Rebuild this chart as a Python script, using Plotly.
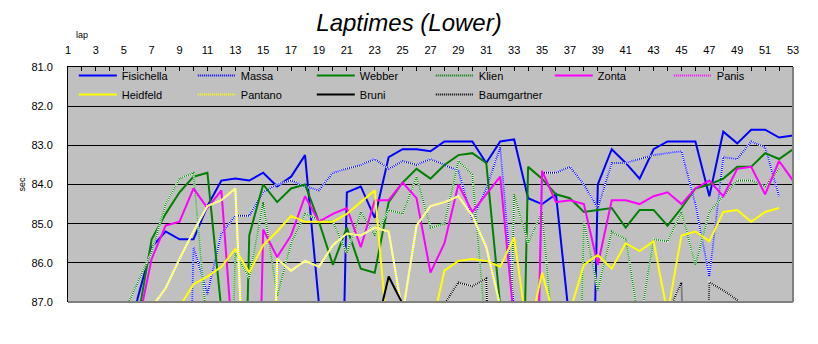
import plotly.graph_objects as go

laps = list(range(1, 54))
tick_laps = list(range(1, 54, 2))

fisichella = [96.0, 89.8, 88.9, 88.7, 88.5, 86.9, 85.6, 85.2, 85.4, 85.4,
              84.55, 83.9, 83.85, 83.9, 83.7, 84.05, 83.8, 83.25, 87.05, 100.5,
              84.2, 84.05, 84.85, 83.3, 83.1, 83.1, 83.15, 82.9, 82.9, 82.9,
              83.45, 82.9, 82.85, 84.35, 84.5, 84.25, 87.6, 100.2, 84.0, 83.1,
              83.45, 83.85, 83.1, 82.9, 82.9, 82.9, 84.3, 82.65, 82.95, 82.6,
              82.6, 82.8, 82.75]
massa = [97.0, 90.2, 89.5, 89.0, 88.8, 88.9, 88.4, 88.7, 101.0, 85.6,
         86.8, 85.25, 84.8, 84.8, 84.2, 84.0, 83.9, 84.05, 84.15, 83.7,
         83.6, 83.5, 83.35, 83.6, 83.4, 83.5, 83.35, 83.5, 83.65, 84.9,
         84.1, 83.05, 87.2, 100.0, 83.7, 83.7, 83.55, 84.0, 84.6, 83.45,
         83.45, 83.35, 83.25, 83.2, 83.15, 84.5, 86.35, 83.3, 83.35, 82.9,
         83.05, 84.3, None]
webber = [97.5, 90.0, 89.1, 88.6, 88.3, 87.45, 85.4, 84.75, 84.2, 83.8,
          83.7, 87.2, 100.0, 85.3, 84.0, 84.45, 84.1, 84.0, 84.95, 86.05,
          85.1, 86.15, 86.25, 84.45, 83.95, 83.6, 83.85, 83.5, 83.25, 83.2,
          83.45, 87.1, 100.0, 83.55, 83.85, 84.25, 84.35, 84.7, 84.65, 84.6,
          85.1, 84.65, 84.65, 85.05, 84.6, 84.1, 84.0, 83.85, 83.55, 83.55,
          83.2, 83.35, 83.1]
klien = [96.5, 89.5, 88.7, 88.0, 87.28, 86.5, 85.72, 84.5, 83.85, 83.7,
         87.8, 99.0, 85.75, 86.4, 84.45, 86.85, 85.5, 84.75, 84.9, 84.95,
         85.75, 84.7, 85.3, 84.65, 84.75, 83.8, 85.1, 85.0, 83.4, 83.75,
         87.86, 99.0, 84.25, 85.5, 84.7, 88.7, 99.5, 84.95, 86.7, 85.2,
         85.4, 87.6, 85.4, 85.45, 84.7, 86.05, 84.7, 84.3, 83.9, 83.9,
         84.05, 83.6, None]
zonta = [97.8, 90.8, 89.6, 89.0, 88.4, 87.62, 85.9, 85.05, 84.95, 84.1,
         84.6, 84.15, 88.9, 100.3, 85.15, 85.85, 85.3, 84.3, 84.95, 84.75,
         84.6, 85.6, 84.4, 84.4, 83.95, 84.35, 86.25, 85.5, 84.0, 84.7,
         84.25, 83.8, 87.5, 100.0, 83.65, 84.45, 84.4, 84.5, 86.05, 84.4,
         84.4, 84.5, 84.3, 84.2, 84.5, 84.1, 83.9, 84.3, 83.6, 83.55,
         84.25, 83.4, 83.9]
panis = [99.0, 89.5] + [None] * 51
heidfeld = [98.0, 91.0, 89.8, 89.2, 88.9, 88.5, 88.2, 87.9, 87.12, 86.55,
            86.35, 86.1, 85.65, 86.25, 85.55, 85.2, 84.8, 84.95, 84.95, 84.95,
            84.75, 84.45, 84.15, 88.2, 100.0, 88.5, 87.8, 86.2, 85.95, 85.9,
            85.95, 86.1, 85.35, 87.9, 86.25, 87.56, 87.25, 86.05, 85.8, 86.15,
            85.5, 85.7, 85.45, 87.3, 85.3, 85.2, 85.45, 84.7, 84.65, 84.95,
            84.7, 84.6, None]
pantano = [98.2, 91.2, 90.0, 89.3, 88.6, 88.0, 87.14, 86.65, 85.9, 85.2,
           84.55, 84.4, 84.1, 92.0, 100.0, 85.9, 86.2, 85.95, 86.1, 85.55,
           85.25, 85.3, 85.1, 85.2, 87.3, 85.05, 84.55, 84.45, 84.3, 84.8,
           85.6, 87.1] + [None] * 21
bruni = [99.0, 92.0, 90.5, 89.8, 89.5, 89.2, 89.0, 88.9, 88.6, 88.7,
         88.5, 88.4, 88.8, 88.3, 88.2, 88.4, 88.0, 88.3, 88.1, 88.2,
         88.0, 87.9, 87.86, 86.35, 87.05, 88.6, 88.4, 88.9, 88.3, 88.5,
         101.0, 88.7, 88.4, 88.2, 88.5, 88.3, 88.6, 88.2, 88.4, 88.1,
         88.3, 88.0, 88.2, None, None, None, None, None, None, None,
         None, None, None]
baumgartner = [99.5, 92.5, 91.0, 90.0, 89.6, 89.3, 89.1, 88.8, 88.9, 88.6,
               88.5, 88.7, 88.4, 88.6, 88.3, 88.2, 88.5, 88.1, 88.3, 88.2,
               88.0, 88.4, 88.1, 88.2, 87.9, 88.3, 88.0, 87.05, 86.5, 86.6,
               86.4, 99.0, 88.6, 88.2, 88.1, 88.4, 87.9, 88.2, 88.0, 88.3,
               87.8, 88.1, 87.9, 87.28, 86.5, 99.0, 86.5, 86.7, 86.95, 87.8,
               None, None, None]

series = [
    ("Fisichella", fisichella, "#0000FF", False),
    ("Massa", massa, "#0000FF", True),
    ("Webber", webber, "#008000", False),
    ("Klien", klien, "#008000", True),
    ("Zonta", zonta, "#FF00FF", False),
    ("Panis", panis, "#FF00FF", True),
    ("Heidfeld", heidfeld, "#FFFF00", False),
    ("Pantano", pantano, "#FFFF00", True),
    ("Bruni", bruni, "#000000", False),
    ("Baumgartner", baumgartner, "#000000", True),
]

fig = go.Figure()
for name, vals, color, dotted in series:
    if dotted:
        fig.add_trace(go.Scatter(x=laps, y=vals, mode="lines", showlegend=False,
                                 hoverinfo="skip",
                                 line=dict(color="#FFFFFF", width=2)))
        fig.add_trace(go.Scatter(x=laps, y=vals, mode="lines", name=name,
                                 line=dict(color=color, width=2, dash="1px,1px")))
    else:
        fig.add_trace(go.Scatter(x=laps, y=vals, mode="lines", name=name,
                                 line=dict(color=color, width=2)))

axis_font = dict(family="Liberation Sans, Arial, sans-serif", size=11, color="#000000")

fig.update_layout(
    width=818, height=344,
    margin=dict(l=68, r=25, t=67, b=42),
    paper_bgcolor="#FFFFFF",
    plot_bgcolor="#C0C0C0",
    title=dict(text="Laptimes (Lower)", x=0.5, xanchor="center", y=0.935, yanchor="middle",
               font=dict(family="Liberation Sans, Arial, sans-serif", size=24,
                         color="#000000", style="italic")),
    showlegend=True,
    legend=dict(orientation="h", x=0.008, xanchor="left", y=1.026, yanchor="top",
                bgcolor="rgba(0,0,0,0)", font=axis_font,
                entrywidth=66, entrywidthmode="pixels",
                itemwidth=38, tracegroupgap=0),
    xaxis=dict(side="top", range=[1, 53], tickmode="array", tickvals=tick_laps,
               ticktext=[str(v) for v in tick_laps], tickfont=axis_font,
               ticks="inside", ticklen=4, tickcolor="#000000",
               minor=dict(dtick=1, tick0=1, ticks="inside", ticklen=4, tickcolor="#000000"),
               showgrid=False, zeroline=False, showline=True, linecolor="#000000",
               linewidth=1, ticklabelstandoff=8),
    yaxis=dict(range=[87, 81], tickmode="array", tickvals=[81, 82, 83, 84, 85, 86, 87],
               ticktext=["81.0", "82.0", "83.0", "84.0", "85.0", "86.0", "87.0"],
               tickfont=axis_font, ticks="", showgrid=True, gridcolor="#000000",
               gridwidth=1, zeroline=False, showline=True, linecolor="#000000",
               linewidth=1, ticklabelstandoff=12,
               title=dict(text="sec", font=dict(family="Liberation Sans, Arial, sans-serif",
                                                size=9, color="#000000"), standoff=4)),
    shapes=[
        dict(type="line", xref="paper", yref="paper", x0=1, x1=1, y0=0, y1=1,
             line=dict(color="#808080", width=2)),
        dict(type="line", xref="paper", yref="paper", x0=0, x1=1, y0=0, y1=0,
             line=dict(color="#808080", width=2)),
    ],
    annotations=[
        dict(text="lap", xref="paper", yref="paper", x=(82 - 68) / 725, y=1 + (67 - 35) / 235,
             xanchor="center", yanchor="middle",
             showarrow=False, font=dict(family="Liberation Sans, Arial, sans-serif",
                                        size=9, color="#000000")),
    ],
)

fig.write_html("out.html")
